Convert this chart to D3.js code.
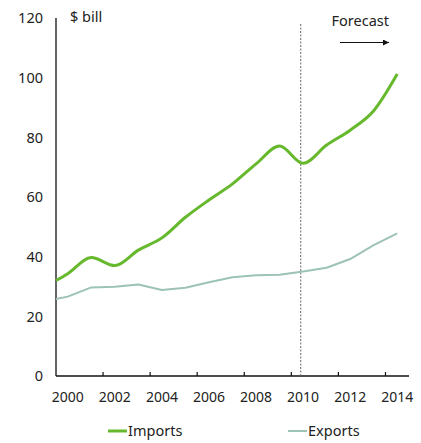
<!DOCTYPE html>
<html>
<head>
<meta charset="utf-8">
<script src="https://cdn.jsdelivr.net/npm/d3@7"></script>
<style>
  html, body { margin: 0; padding: 0; background: #fff; }
  svg { display: block; font-family: "Noto Sans", "Open Sans", sans-serif; }
  text { fill: #222; }
</style>
</head>
<body>
<svg id="chart" width="421" height="443"></svg>
<script>
// Trade values, $ billion, with forecast from 2010
const years   = [1999.5, 2000, 2001, 2002, 2003, 2004, 2005, 2006, 2007, 2008, 2009, 2010, 2011, 2012, 2013, 2014];
const imports = [32.0, 34.3, 39.7, 37.0, 42.2, 46.3, 53.2, 59.0, 64.4, 71.1, 77.1, 71.3, 77.4, 82.4, 88.9, 101.2];
const exports = [25.8, 26.6, 29.7, 29.9, 30.7, 28.8, 29.6, 31.4, 33.1, 33.8, 33.9, 35.0, 36.3, 39.2, 43.9, 47.8];
const xTickLabels = [2000, 2002, 2004, 2006, 2008, 2010, 2012, 2014];
const xTickMarks  = [2001.5, 2003.5, 2005.5, 2007.5, 2009.5, 2011.5, 2013.5];
const yTicks = [0, 20, 40, 60, 80, 100, 120];
const forecastStart = 2009.9;
const seriesNames = ["Imports", "Exports"];
const seriesColors = ["#66b82c", "#9cc3b4"];

const svg = d3.select("#chart");
const x = d3.scaleLinear().domain([1999.5, 2014.5]).range([56, 409]);
const y = d3.scaleLinear().domain([0, 120]).range([376, 18]);

// Y axis: line plus labels, no tick marks
svg.append("line")
  .attr("x1", x(1999.5)).attr("x2", x(1999.5))
  .attr("y1", y(120)).attr("y2", y(0))
  .attr("stroke", "#111").attr("stroke-width", 1.3);

svg.selectAll(".ylab").data(yTicks).enter().append("text")
  .attr("class", "ylab")
  .attr("x", 43).attr("y", d => y(d))
  .attr("dy", "0.36em")
  .attr("text-anchor", "end")
  .attr("font-size", 14.5)
  .text(d => d);

svg.append("text")
  .attr("x", 70).attr("y", 22)
  .attr("font-size", 14.5)
  .text("$ bill");

// X axis: baseline with inward ticks between year pairs
svg.append("line")
  .attr("x1", x(1999.5)).attr("x2", x(2014.5))
  .attr("y1", y(0)).attr("y2", y(0))
  .attr("stroke", "#111").attr("stroke-width", 1.3);

svg.selectAll(".xtick").data(xTickMarks).enter().append("line")
  .attr("class", "xtick")
  .attr("x1", d => x(d)).attr("x2", d => x(d))
  .attr("y1", y(0)).attr("y2", y(0) - 4)
  .attr("stroke", "#111").attr("stroke-width", 1.2);

svg.selectAll(".xlab").data(xTickLabels).enter().append("text")
  .attr("class", "xlab")
  .attr("x", d => x(d)).attr("y", 402)
  .attr("text-anchor", "middle")
  .attr("font-size", 14)
  .text(d => d);

// Forecast divider
svg.append("line")
  .attr("x1", x(forecastStart)).attr("x2", x(forecastStart))
  .attr("y1", 24).attr("y2", y(0))
  .attr("stroke", "#666").attr("stroke-width", 1)
  .attr("stroke-dasharray", "2,1.5");

svg.append("text")
  .attr("x", 389).attr("y", 26)
  .attr("text-anchor", "end")
  .attr("font-size", 14.5)
  .text("Forecast");

svg.append("defs").append("marker")
  .attr("id", "arrow")
  .attr("viewBox", "0 0 10 10")
  .attr("refX", 10).attr("refY", 5)
  .attr("markerWidth", 6).attr("markerHeight", 6)
  .attr("markerUnits", "userSpaceOnUse")
  .attr("orient", "auto")
  .append("path").attr("d", "M0,0L10,5L0,10Z").attr("fill", "#111");

svg.append("line")
  .attr("x1", 340).attr("x2", 389)
  .attr("y1", 42.5).attr("y2", 42.5)
  .attr("stroke", "#111").attr("stroke-width", 1.2)
  .attr("marker-end", "url(#arrow)");

// Series lines
const rowsImp = years.map((yr, i) => [yr, imports[i]]);
const rowsExp = years.map((yr, i) => [yr, exports[i]]);

svg.append("path")
  .datum(rowsExp)
  .attr("fill", "none")
  .attr("stroke", seriesColors[1])
  .attr("stroke-width", 2)
  .attr("stroke-linejoin", "round")
  .attr("d", d3.line().x(d => x(d[0])).y(d => y(d[1])));

svg.append("path")
  .datum(rowsImp)
  .attr("fill", "none")
  .attr("stroke", seriesColors[0])
  .attr("stroke-width", 3)
  .attr("stroke-linejoin", "round")
  .attr("d", d3.line().curve(d3.curveMonotoneX).x(d => x(d[0])).y(d => y(d[1])));

// Legend
const legendX = [108, 288];
const lg = svg.selectAll(".lg").data(seriesNames).enter().append("g")
  .attr("class", "lg")
  .attr("transform", (d, i) => `translate(${legendX[i]},431)`);
lg.append("line")
  .attr("x1", 0).attr("x2", 19)
  .attr("stroke", (d, i) => seriesColors[i])
  .attr("stroke-width", (d, i) => i === 0 ? 3 : 2);
lg.append("text")
  .attr("x", 20).attr("y", 0).attr("dy", "0.36em")
  .attr("font-size", 14.5)
  .text(d => d);
</script>
</body>
</html>
